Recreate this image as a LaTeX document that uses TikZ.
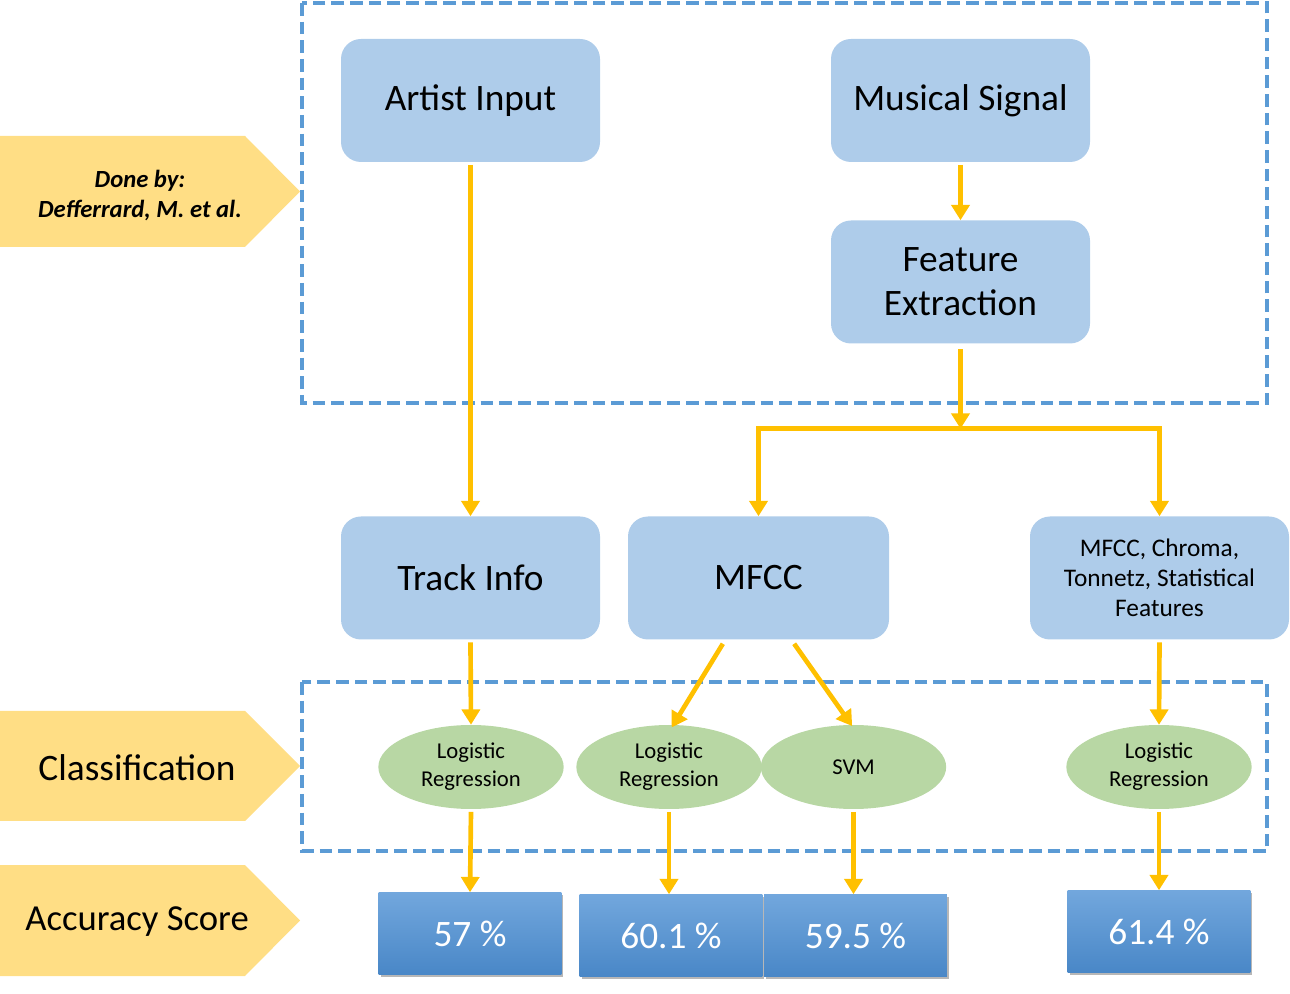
\documentclass[tikz,border=0pt]{standalone}
\usepackage{fontspec}
\setmainfont{Carlito}
\usetikzlibrary{arrows.meta,shapes.geometric,shadows,calc}
\definecolor{boxblue}{HTML}{AECCEA}
\definecolor{ellgreen}{HTML}{B8D7A4}
\definecolor{gold}{HTML}{FFC000}
\definecolor{dashblue}{HTML}{5B9BD5}
\definecolor{tagyellow}{HTML}{FFDE85}
\definecolor{acctop}{HTML}{72A7DD}
\definecolor{accbot}{HTML}{4987C7}
\tikzset{
  bigbox/.style={draw=none, fill=boxblue, rounded corners=15pt, minimum width=194.25pt, minimum height=92.25pt, inner sep=0pt, align=center, font=\fontsize{28}{33}\selectfont},
  smallbox/.style={bigbox, font=\fontsize{19}{22.5}\selectfont},
  ell/.style={ellipse, fill=ellgreen, draw=none, minimum width=139pt, minimum height=63pt, inner sep=0pt, align=center, font=\fontsize{17}{21}\selectfont},
  acc/.style={rectangle, top color=acctop, bottom color=accbot, draw=none, minimum width=137pt, minimum height=61.5pt, inner sep=0pt, text=white, font=\fontsize{28}{33}\selectfont, drop shadow={shadow xshift=1.5pt, shadow yshift=-2pt, opacity=0.4, fill=black!70}},
  conn/.style={draw=gold, line width=3.5pt, -{Triangle[width=13.5pt,length=11.5pt]}},
  frame/.style={draw=dashblue, line width=3pt, dash pattern=on 9.5pt off 4.5pt},
  tag/.style={fill=tagyellow, draw=none},
  tagtext/.style={align=center, inner sep=0pt},
}
\begin{document}
\begin{tikzpicture}[x=0.75pt, y=-0.75pt]
\useasboundingbox (0,0) rectangle (1290,994);
% frames
\draw[frame] (302,3) rectangle (1267,403);
\draw[frame] (302,682) rectangle (1267,851);
% left tags
\fill[tag] (0,136) -- (245,136) -- (300,191.5) -- (245,247) -- (0,247) -- cycle;
\node[tagtext, font=\fontsize{18.5}{22.5}\selectfont\bfseries\itshape] (done) at (140,196) {Done by:\\Defferrard, M. et al.};
\fill[tag] (0,711) -- (245,711) -- (300,766) -- (245,821) -- (0,821) -- cycle;
\node[tagtext, font=\fontsize{28}{32}\selectfont] (cls) at (137,768) {Classification};
\fill[tag] (0,865) -- (245,865) -- (300,920.5) -- (245,976) -- (0,976) -- cycle;
\node[tagtext, font=\fontsize{27.5}{32}\selectfont] (accs) at (137,922) {Accuracy Score};
% boxes
\node[bigbox] (ai) at (470.5,100.5) {Artist Input};
\node[bigbox] (ms) at (960.5,100.5) {Musical Signal};
\node[bigbox] (fe) at (960.5,282) {Feature\\Extraction};
\node[bigbox] (ti) at (470.5,578) {Track Info};
\node[bigbox, minimum width=195.75pt] (mf) at (758.5,578) {MFCC};
\node[smallbox] (mc) at (1159.5,578) {MFCC, Chroma,\\Tonnetz, Statistical\\Features};
% ellipses
\node[ell] (lr1) at (471,767) {Logistic\\Regression};
\node[ell] (lr2) at (669,767) {Logistic\\Regression};
\node[ell] (svm) at (853.5,767) {SVM};
\node[ell] (lr3) at (1159,767) {Logistic\\Regression};
% accuracy boxes
\node[acc] (a1) at (470,933.5) {57 \%};
\node[acc] (a2) at (671,935.5) {60.1 \%};
\node[acc] (a3) at (855.5,935.5) {59.5 \%};
\node[acc] (a4) at (1159,931.5) {61.4 \%};
% branch coordinates
\coordinate (br) at ($(fe.south)+(-2,85)$);
\coordinate (bl) at (mf.north |- br);
\coordinate (bm) at (fe.south |- br);
\coordinate (brr) at (mc.north |- br);
% connectors
\draw[conn] ([yshift=-2]ai.south) -- (ti.north);
\draw[conn] ([yshift=-2]ms.south) -- (fe.north);
\draw[conn] ([yshift=-4]fe.south) -- (bm);
\draw[draw=gold, line width=3.5pt, line cap=rect] (bl) -- (brr);
\draw[conn] (bl) -- (mf.north);
\draw[conn] (brr) -- (mc.north);
\draw[conn] ([yshift=-2]ti.south) -- (lr1.north);
\draw[conn] ([yshift=-3]mf.240) -- ([xshift=2,yshift=-2]lr2.north);
\draw[conn] ([yshift=-3]mf.300) -- ([xshift=-1,yshift=-1]svm.north);
\draw[conn] ([yshift=-2]mc.south) -- (lr3.north);
\draw[conn] ([yshift=-2]lr1.south) -- (a1.north);
\draw[conn] ([yshift=-2]lr2.south) -- (a2.north -| lr2.south);
\draw[conn] ([yshift=-2]svm.south) -- (a3.north -| svm.south);
\draw[conn] ([yshift=-2]lr3.south) -- (a4.north);
\end{tikzpicture}
\end{document}
